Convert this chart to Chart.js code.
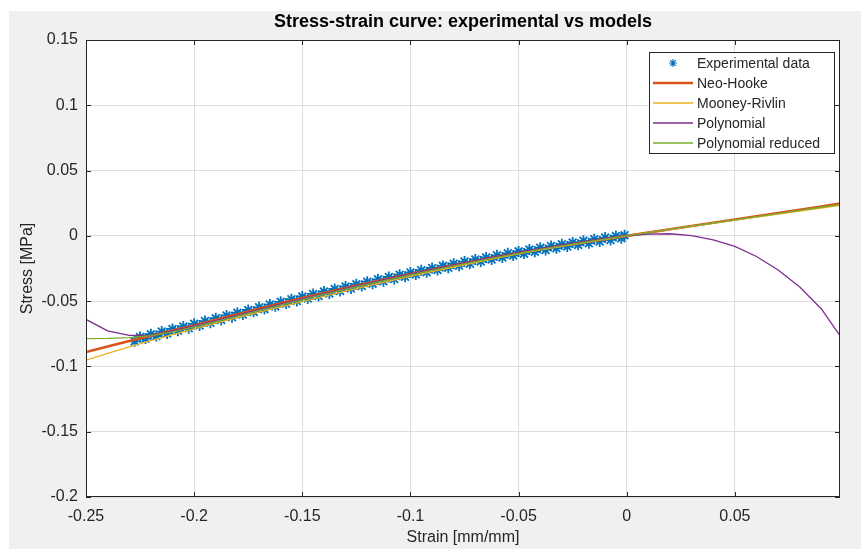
<!DOCTYPE html>
<html>
<head>
<meta charset="utf-8">
<script src="https://cdn.jsdelivr.net/npm/chart.js@4.4.1/dist/chart.umd.min.js"></script>
<style>
  html, body { margin: 0; padding: 0; background: #fff; }
  #wrap { width: 861px; height: 549px; }
</style>
</head>
<body>
<div id="wrap"><canvas id="stress-chart" width="861" height="549"></canvas></div>
<script>
var strainTicks = [-0.25, -0.2, -0.15, -0.1, -0.05, 0, 0.05];
var strainTickLabels = ['-0.25', '-0.2', '-0.15', '-0.1', '-0.05', '0', '0.05'];
var stressTicks = [-0.2, -0.15, -0.1, -0.05, 0, 0.05, 0.1, 0.15];
var stressTickLabels = ['-0.2', '-0.15', '-0.1', '-0.05', '0', '0.05', '0.1', '0.15'];

// experimental points (compression test)
var expStrain = [-0.2275, -0.225, -0.2225, -0.22, -0.2175, -0.215, -0.2125, -0.21, -0.2075, -0.205,
  -0.2025, -0.2, -0.1975, -0.195, -0.1925, -0.19, -0.1875, -0.185, -0.1825, -0.18,
  -0.1775, -0.175, -0.1725, -0.17, -0.1675, -0.165, -0.1625, -0.16, -0.1575, -0.155,
  -0.1525, -0.15, -0.1475, -0.145, -0.1425, -0.14, -0.1375, -0.135, -0.1325, -0.13,
  -0.1275, -0.125, -0.1225, -0.12, -0.1175, -0.115, -0.1125, -0.11, -0.1075, -0.105,
  -0.1025, -0.1, -0.0975, -0.095, -0.0925, -0.09, -0.0875, -0.085, -0.0825, -0.08,
  -0.0775, -0.075, -0.0725, -0.07, -0.0675, -0.065, -0.0625, -0.06, -0.0575, -0.055,
  -0.0525, -0.05, -0.0475, -0.045, -0.0425, -0.04, -0.0375, -0.035, -0.0325, -0.03,
  -0.0275, -0.025, -0.0225, -0.02, -0.0175, -0.015, -0.0125, -0.01, -0.0075, -0.005,
  -0.0025, -0.001];
var expStress = [-0.0808, -0.0774, -0.0787, -0.0753, -0.0767, -0.0733, -0.0747, -0.0713, -0.0727, -0.0694,
  -0.0708, -0.0674, -0.0687, -0.0653, -0.0666, -0.0631, -0.0645, -0.0610, -0.0624, -0.0589,
  -0.0603, -0.0568, -0.0582, -0.0547, -0.0561, -0.0526, -0.0540, -0.0505, -0.0519, -0.0485,
  -0.0498, -0.0464, -0.0479, -0.0445, -0.0460, -0.0426, -0.0441, -0.0407, -0.0422, -0.0388,
  -0.0403, -0.0370, -0.0384, -0.0351, -0.0366, -0.0333, -0.0348, -0.0315, -0.0330, -0.0298,
  -0.0313, -0.0280, -0.0296, -0.0263, -0.0279, -0.0246, -0.0262, -0.0230, -0.0245, -0.0213,
  -0.0229, -0.0197, -0.0213, -0.0181, -0.0197, -0.0165, -0.0181, -0.0149, -0.0166, -0.0134,
  -0.0151, -0.0119, -0.0136, -0.0105, -0.0122, -0.0091, -0.0108, -0.0078, -0.0095, -0.0064,
  -0.0082, -0.0051, -0.0069, -0.0038, -0.0056, -0.0026, -0.0043, -0.0013, -0.0031, -0.0001,
  -0.0018, 0.0004];

// model curves
var modelStrain = [-0.25, -0.24, -0.23, -0.22, -0.21, -0.2, -0.19, -0.18, -0.17, -0.16,
  -0.15, -0.14, -0.13, -0.12, -0.11, -0.1, -0.09, -0.08, -0.07, -0.06,
  -0.05, -0.04, -0.03, -0.02, -0.01, 0, 0.01, 0.02, 0.03, 0.04,
  0.05, 0.06, 0.07, 0.08, 0.09, 0.0986];
var neoHooke = [-0.0890, -0.0848, -0.0806, -0.0765, -0.0725, -0.0686, -0.0643, -0.0601, -0.0559, -0.0517,
  -0.0476, -0.0438, -0.0400, -0.0363, -0.0327, -0.0292, -0.0258, -0.0225, -0.0193, -0.0161,
  -0.0131, -0.0103, -0.0076, -0.0050, -0.0025, 0, 0.0025, 0.0050, 0.0075, 0.0100,
  0.0125, 0.0150, 0.0175, 0.0200, 0.0225, 0.0247];
var mooneyRivlin = [-0.0952, -0.0900, -0.0850, -0.0802, -0.0756, -0.0712, -0.0669, -0.0627, -0.0585, -0.0544,
  -0.0503, -0.0463, -0.0424, -0.0385, -0.0347, -0.0310, -0.0274, -0.0239, -0.0204, -0.0170,
  -0.0137, -0.0108, -0.0080, -0.0053, -0.0026, 0, 0.0025, 0.0049, 0.0073, 0.0097,
  0.0121, 0.0144, 0.0167, 0.0190, 0.0213, 0.0234];
var polynomial = [-0.0640, -0.0728, -0.0762, -0.0762, -0.0728, -0.0690, -0.0649, -0.0607, -0.0565, -0.0523,
  -0.0482, -0.0442, -0.0403, -0.0365, -0.0328, -0.0292, -0.0257, -0.0222, -0.0189, -0.0157,
  -0.0126, -0.0097, -0.0070, -0.0044, -0.0020, 0, 0.0014, 0.0016, 0.0002, -0.0030,
  -0.0080, -0.0158, -0.0262, -0.0392, -0.0560, -0.0765];
var polyReduced = [-0.0787, -0.0785, -0.0779, -0.0764, -0.0735, -0.0697, -0.0656, -0.0614, -0.0572, -0.0530,
  -0.0489, -0.0449, -0.0410, -0.0372, -0.0335, -0.0299, -0.0264, -0.0230, -0.0197, -0.0165,
  -0.0134, -0.0104, -0.0077, -0.0051, -0.0025, 0, 0.0025, 0.0050, 0.0074, 0.0098,
  0.0123, 0.0147, 0.0171, 0.0195, 0.0219, 0.0240];

var FONT = '"Liberation Sans", Arial, Helvetica, sans-serif';
var INK = '#262626';

function pairs(xs, ys) {
    var out = [];
    for (let i = 0; i < xs.length; i++) out.push({ x: xs[i], y: ys[i] });
    return out;
}

function lineSet(label, ys, color, width, order) {
    return {
        label: label,
        data: pairs(modelStrain, ys),
        showLine: true,
        borderColor: color,
        backgroundColor: color,
        borderWidth: width,
        pointRadius: 0,
        pointHoverRadius: 0,
        tension: 0,
        order: order
    };
}

// gray figure background, white axes, frame, inward ticks and legend box
var matlabLook = {
    id: 'matlabLook',
    beforeDraw: function (chart) {
        var ctx = chart.ctx, a = chart.chartArea;
        ctx.save();
        ctx.fillStyle = '#ffffff';
        ctx.fillRect(0, 0, chart.width, chart.height);
        ctx.fillStyle = '#f0f0f0';
        ctx.fillRect(9, 11, chart.width - 9, chart.height - 11);
        ctx.fillStyle = '#ffffff';
        ctx.fillRect(a.left, a.top, a.right - a.left, a.bottom - a.top);
        ctx.restore();
    },
    afterDraw: function (chart) {
        var ctx = chart.ctx, a = chart.chartArea;
        var xs = chart.scales.x, ys = chart.scales.y;
        ctx.save();
        ctx.strokeStyle = INK;
        ctx.lineWidth = 1;
        ctx.beginPath();
        strainTicks.forEach(function (v) {
            var px = Math.round(xs.getPixelForValue(v)) + 0.5;
            ctx.moveTo(px, a.bottom); ctx.lineTo(px, a.bottom - 5);
            ctx.moveTo(px, a.top); ctx.lineTo(px, a.top + 5);
        });
        stressTicks.forEach(function (v) {
            var py = Math.round(ys.getPixelForValue(v)) + 0.5;
            ctx.moveTo(a.left, py); ctx.lineTo(a.left + 5, py);
            ctx.moveTo(a.right, py); ctx.lineTo(a.right - 5, py);
        });
        ctx.stroke();
        ctx.strokeRect(Math.round(a.left) + 0.5, Math.round(a.top) + 0.5,
            Math.round(a.right - a.left) - 1, Math.round(a.bottom - a.top) - 1);

        // legend
        var lx = a.right - 191, ly = a.top + 12, lw = 185, lh = 101;
        ctx.fillStyle = '#ffffff';
        ctx.fillRect(lx, ly, lw, lh);
        ctx.strokeStyle = INK;
        ctx.strokeRect(lx + 0.5, ly + 0.5, lw, lh);
        ctx.font = '14px ' + FONT;
        ctx.textBaseline = 'middle';
        ctx.textAlign = 'left';
        chart.data.datasets.forEach(function (ds, i) {
            var ry = ly + 11 + i * 20;
            ctx.strokeStyle = ds.borderColor;
            if (ds.showLine) {
                ctx.lineWidth = ds.borderWidth;
                ctx.beginPath();
                ctx.moveTo(lx + 4, ry); ctx.lineTo(lx + 44, ry);
                ctx.stroke();
            } else {
                ctx.lineWidth = 1.2;
                Chart.helpers.drawPoint(ctx, { pointStyle: 'star', radius: 4, rotation: 0, borderWidth: 1.2 }, lx + 24, ry);
            }
            ctx.fillStyle = INK;
            ctx.fillText(ds.label, lx + 48, ry + 1);
        });
        ctx.restore();
    }
};

var ctx = document.getElementById('stress-chart');
new Chart(ctx, {
    type: 'scatter',
    data: {
        datasets: [
            {
                label: 'Experimental data',
                data: pairs(expStrain, expStress),
                pointStyle: 'star',
                pointRadius: 5.5,
                pointBorderWidth: 1.8,
                borderColor: '#0072BD',
                backgroundColor: '#0072BD',
                order: 10
            },
            lineSet('Neo-Hooke', neoHooke, '#D95319', 2.6, 4),
            lineSet('Mooney-Rivlin', mooneyRivlin, '#EDB120', 1.3, 3),
            lineSet('Polynomial', polynomial, '#7E2F8E', 1.3, 2),
            lineSet('Polynomial reduced', polyReduced, '#77AC30', 1.3, 1)
        ]
    },
    options: {
        responsive: false,
        animation: false,
        devicePixelRatio: 1,
        layout: { padding: { left: 0, right: 21, top: 0, bottom: 0 } },
        scales: {
            x: {
                type: 'linear',
                min: -0.25,
                max: 0.0986,
                afterBuildTicks: function (scale) {
                    scale.ticks = strainTicks.map(function (v) { return { value: v }; });
                },
                afterFit: function (scale) { scale.height = 52; },
                ticks: {
                    autoSkip: false,
                    maxRotation: 0,
                    padding: 10,
                    color: INK,
                    font: { family: FONT, size: 16 },
                    callback: function (v) { return strainTickLabels[strainTicks.indexOf(v)]; }
                },
                grid: { color: '#dedede', lineWidth: 1, drawTicks: false },
                border: { display: false },
                title: {
                    display: true,
                    text: 'Strain [mm/mm]',
                    color: INK,
                    font: { family: FONT, size: 16 },
                    padding: { top: 0, bottom: 1.4 }
                }
            },
            y: {
                type: 'linear',
                min: -0.2,
                max: 0.15,
                afterBuildTicks: function (scale) {
                    scale.ticks = stressTicks.map(function (v) { return { value: v }; });
                },
                afterFit: function (scale) { scale.width = 86; },
                ticks: {
                    autoSkip: false,
                    padding: 8,
                    color: INK,
                    font: { family: FONT, size: 16 },
                    callback: function (v) { return stressTickLabels[stressTicks.indexOf(v)]; }
                },
                grid: { color: '#dedede', lineWidth: 1, drawTicks: false },
                border: { display: false },
                title: {
                    display: true,
                    text: 'Stress [MPa]',
                    color: INK,
                    font: { family: FONT, size: 16 },
                    padding: { top: 18.4, bottom: 0 }
                }
            }
        },
        plugins: {
            legend: { display: false },
            tooltip: { enabled: false },
            title: {
                display: true,
                fullSize: false,
                text: 'Stress-strain curve: experimental vs models',
                color: '#000000',
                font: { family: FONT, size: 18, weight: 'bold' },
                padding: { top: 11.2, bottom: 7.2 }
            }
        }
    },
    plugins: [matlabLook]
});
</script>
</body>
</html>
